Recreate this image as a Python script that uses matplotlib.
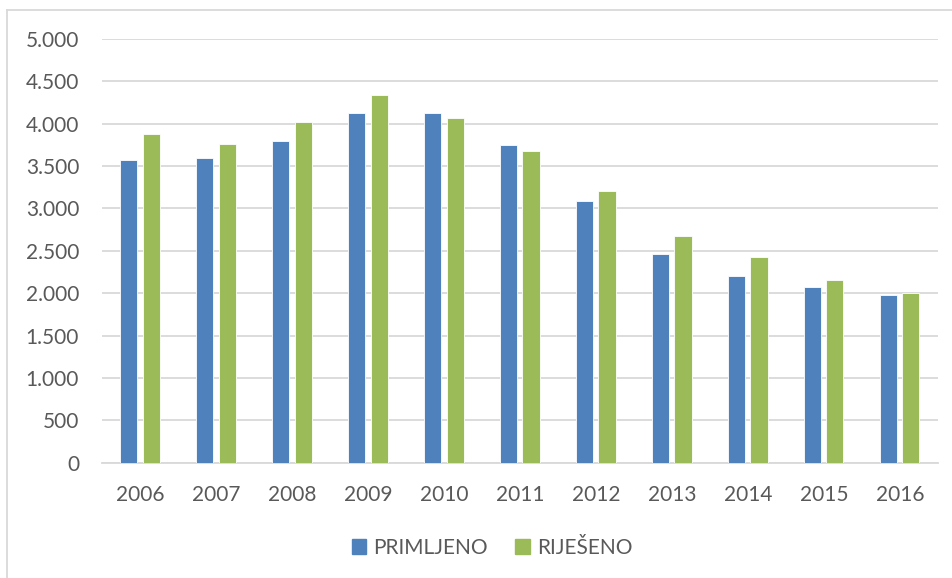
import numpy as np
import matplotlib.pyplot as plt
from matplotlib.lines import Line2D
from matplotlib.patches import Patch
from matplotlib.ticker import FuncFormatter

plt.rcParams['font.family'] = ['Lato', 'DejaVu Sans']

years = ['2006', '2007', '2008', '2009', '2010', '2011',
         '2012', '2013', '2014', '2015', '2016']
primljeno = [3570, 3600, 3795, 4125, 4130, 3745, 3090, 2466, 2200, 2077, 1980]
rijeseno = [3875, 3765, 4017, 4343, 4068, 3678, 3202, 2675, 2424, 2156, 2000]
series_names = ['PRIMLJENO', 'RIJEŠENO']

blue = '#4F81BD'
green = '#9BBB59'
txt = '#595959'
grid = '#D9D9D9'

fig = plt.figure(figsize=(9.53, 5.78), dpi=100)
ax = fig.add_axes([0.107, 0.1995, 0.877, 0.733])

x = np.arange(len(years))
w = 0.225
off = 0.147
ax.bar(x - off, primljeno, w, color=blue, edgecolor='white', linewidth=0.6, zorder=3)
ax.bar(x + off, rijeseno, w, color=green, edgecolor='white', linewidth=0.6, zorder=3)

ax.set_xlim(-0.5, len(years) - 0.5)
ax.set_ylim(0, 5000)
ax.set_yticks(np.arange(0, 5001, 500))
ax.yaxis.set_major_formatter(FuncFormatter(lambda v, p: f'{int(v):,}'.replace(',', '.')))
ax.set_xticks(x)
ax.set_xticklabels(years)

ax.grid(axis='y', color=grid, linewidth=1.3, zorder=0)
for s in ['top', 'right', 'left']:
    ax.spines[s].set_visible(False)
ax.spines['bottom'].set_color(grid)
ax.spines['bottom'].set_linewidth(1.3)
ax.tick_params(axis='both', length=0, labelsize=15, labelcolor=txt)
ax.tick_params(axis='y', pad=16.5)
ax.tick_params(axis='x', pad=16)

# chart frame (cut off at right and bottom)
fig.add_artist(Line2D([7.5 / 953, 7.5 / 953], [0, 1 - 10 / 578], color=grid, linewidth=1.3))
fig.add_artist(Line2D([7.5 / 953, 1], [1 - 10 / 578, 1 - 10 / 578], color=grid, linewidth=1.3))

handles = [Patch(color=blue), Patch(color=green)]
fig.legend(handles, series_names, loc='center', bbox_to_anchor=(492 / 953, 30 / 578),
           ncol=2, frameon=False, fontsize=15, labelcolor=txt,
           handlelength=0.7, handleheight=0.7, handletextpad=0.35, columnspacing=1.3)

fig.savefig('out.png', dpi=100)
